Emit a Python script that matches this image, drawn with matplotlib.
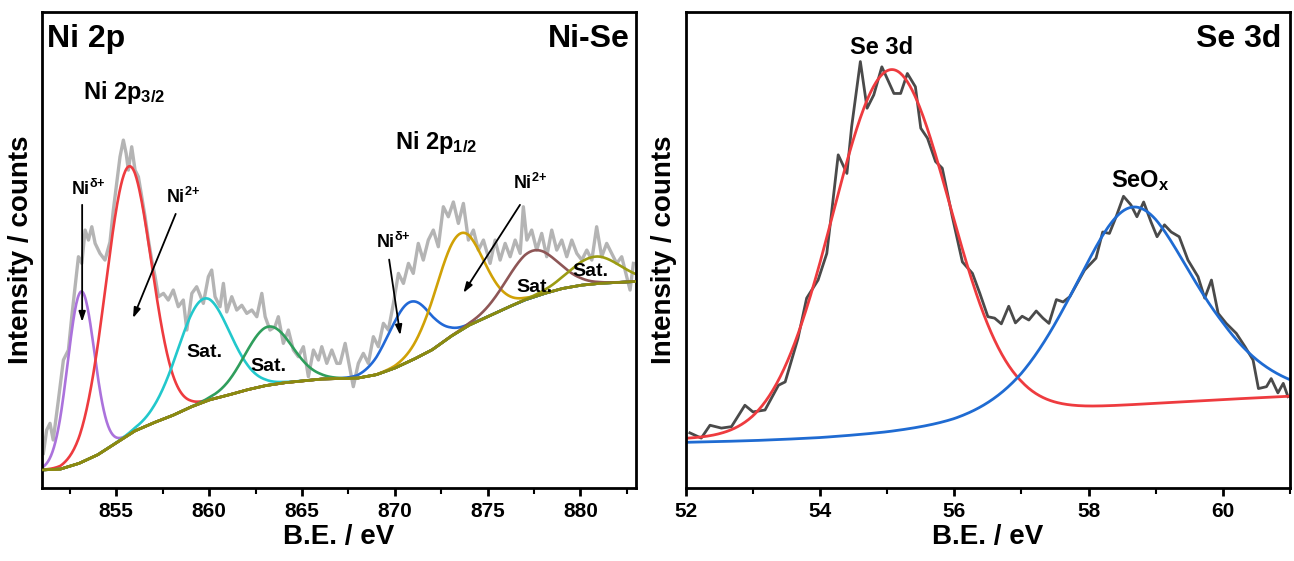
import numpy as np
import matplotlib
matplotlib.use("Agg")
import matplotlib.pyplot as plt

plt.rcParams["font.family"] = ["Liberation Sans", "DejaVu Sans"]
plt.rcParams["font.weight"] = "bold"
plt.rcParams["mathtext.fontset"] = "custom"
plt.rcParams["mathtext.rm"] = "Liberation Sans:bold"
plt.rcParams["mathtext.it"] = "Liberation Sans:bold"
plt.rcParams["mathtext.bf"] = "Liberation Sans:bold"

# ---------------- Ni 2p : raw spectrum ----------------
ni_be = [851.07, 851.25, 851.43, 851.6, 851.88, 852.15, 852.42, 852.6, 852.78, 852.96,
         853.14, 853.32, 853.5, 853.68, 853.86, 854.12, 854.39, 854.66, 854.84, 855.02,
         855.2, 855.38, 855.53, 855.65, 855.83, 856.01, 856.19, 856.37, 856.55, 856.73,
         856.91, 857.09, 857.27, 857.54, 857.8, 858.07, 858.34, 858.61, 858.8, 859.07,
         859.33, 859.69, 859.96, 860.14, 860.32, 860.59, 860.77, 860.95, 861.22, 861.49,
         861.76, 862.03, 862.3, 862.57, 862.84, 863.02, 863.28, 863.55, 863.73, 864.0,
         864.27, 864.54, 864.81, 865.08, 865.35, 865.62, 865.89, 866.07, 866.34, 866.61,
         866.88, 867.06, 867.33, 867.6, 867.77, 868.04, 868.31, 868.58, 868.85, 869.12,
         869.39, 869.66, 869.93, 870.2, 870.47, 870.74, 871.0, 871.27, 871.54, 871.81,
         872.08, 872.35, 872.62, 872.89, 873.16, 873.43, 873.7, 873.97, 874.24, 874.51,
         874.78, 875.14, 875.41, 875.68, 875.95, 876.22, 876.49, 876.76, 876.93, 877.12,
         877.38, 877.65, 877.92, 878.19, 878.46, 878.73, 879.0, 879.27, 879.54, 879.81,
         880.08, 880.35, 880.62, 880.88, 881.15, 881.42, 881.69, 881.96, 882.23, 882.5,
         882.68, 882.86]
ni_counts = [7.3, 12.2, 13.6, 10.1, 18.5, 26.9, 29.0, 36.0, 42.3, 48.6,
             47.2, 54.2, 52.1, 54.9, 51.4, 49.3, 47.9, 51.7, 58.4, 64.0,
             69.6, 73.1, 70.3, 66.8, 71.7, 66.8, 65.4, 61.2, 57.0, 52.1,
             47.9, 44.4, 40.2, 40.9, 39.5, 41.6, 38.1, 39.5, 33.2, 40.9,
             42.3, 38.8, 44.4, 45.8, 40.2, 38.1, 43.0, 37.0, 40.2, 37.4,
             38.4, 36.7, 37.4, 36.0, 40.9, 36.0, 33.2, 33.9, 36.0, 30.4,
             33.2, 29.0, 27.6, 29.7, 23.4, 29.0, 26.9, 29.7, 26.2, 29.0,
             26.2, 26.2, 30.4, 24.8, 21.3, 26.2, 28.3, 26.2, 31.8, 29.7,
             34.6, 33.2, 38.8, 45.1, 43.0, 47.2, 45.1, 51.4, 47.9, 52.1,
             54.2, 50.7, 59.1, 57.0, 60.1, 55.6, 59.8, 52.1, 54.2, 50.0,
             52.1, 47.2, 52.1, 47.9, 51.4, 48.6, 52.1, 49.3, 59.1, 52.1,
             54.2, 50.0, 53.5, 48.6, 54.2, 50.0, 52.1, 48.6, 52.1, 49.3,
             47.9, 50.0, 47.9, 54.9, 48.6, 51.4, 49.3, 47.2, 48.6, 44.4,
             41.6, 47.2]

# Ni 2p background (olive line) at 1 eV steps
ni_bg_be = list(range(851, 884))
ni_bg = [3.8, 4.0, 5.2, 7.0, 9.5, 12.0, 13.7, 15.2, 17.0, 18.5, 19.5, 20.6, 21.5, 22.1,
         22.5, 22.9, 23.0, 23.1, 23.8, 25.2, 27.0, 29.0, 31.8, 34.2, 36.0, 37.8, 39.5,
         40.8, 41.9, 42.6, 43.0, 43.2, 43.4]

# Ni 2p fitted components: centre, height above background, FWHM
ni_names = ["Ni d+ 3/2", "Ni2+ 3/2", "Sat 1", "Sat 2", "Ni d+ 1/2", "Ni2+ 1/2", "Sat 3", "Sat 4"]
ni_center = [853.1, 855.65, 859.7, 863.2, 870.8, 873.5, 877.4, 880.8]
ni_height = [35.9, 56.4, 21.7, 12.3, 12.4, 20.4, 9.8, 5.7]
ni_fwhm = [1.7, 2.9, 3.3, 3.0, 2.7, 3.0, 3.2, 3.2]
ni_colors = ["#ab72dc", "#ee3b3f", "#22c8cc", "#2f9e5c", "#2168d6", "#d0a106",
             "#8e5656", "#9b9b12"]

# ---------------- Se 3d : raw spectrum ----------------
se_be = [52.06, 52.23, 52.36, 52.53, 52.68, 52.88, 53.0, 53.18, 53.38, 53.48,
         53.67, 53.8, 53.97, 54.1, 54.17, 54.27, 54.4, 54.47, 54.6, 54.7,
         54.8, 54.92, 55.1, 55.2, 55.3, 55.42, 55.5, 55.6, 55.72, 55.82,
         55.97, 56.12, 56.27, 56.38, 56.5, 56.6, 56.7, 56.81, 56.91, 57.01,
         57.11, 57.22, 57.32, 57.41, 57.52, 57.62, 57.72, 57.94, 58.11, 58.21,
         58.31, 58.41, 58.52, 58.63, 58.72, 58.82, 58.93, 59.02, 59.13, 59.23,
         59.35, 59.48, 59.63, 59.73, 59.83, 59.93, 60.05, 60.2, 60.33, 60.45,
         60.53, 60.65, 60.72, 60.82, 60.9, 60.97]
se_counts = [11.6, 10.5, 13.2, 12.6, 12.9, 17.4, 16.0, 16.4, 21.6, 22.3,
             31.4, 39.9, 43.7, 49.3, 57.7, 70.0, 66.1, 75.9, 89.6, 79.8,
             82.6, 88.5, 82.9, 82.9, 87.1, 84.3, 75.6, 73.5, 68.6, 67.2,
             57.0, 47.5, 45.1, 40.9, 36.0, 35.7, 34.5, 38.2, 34.7, 36.1,
             35.3, 37.2, 35.7, 34.6, 39.6, 39.1, 40.2, 45.8, 48.3, 53.8,
             53.5, 57.0, 61.3, 59.5, 57.0, 60.1, 55.9, 52.8, 55.3, 53.8,
             52.8, 47.9, 44.4, 39.9, 43.7, 36.7, 34.6, 32.5, 29.7, 26.9,
             20.9, 21.3, 23.0, 20.0, 22.0, 19.2]

# Se 3d fitted components
se_bg_be = list(range(52, 62))
se_bg_red = [10.3, 10.5, 11.2, 12.8, 14.8, 16.3, 17.0, 17.8, 18.6, 19.3]
se_bg_blue = [8.9, 9.0, 9.2, 9.6, 10.2, 11.2, 13.0, 15.5, 17.0, 17.0]
se_center = [55.05, 58.64]
se_height = [75.0, 44.4]
se_fwhm = [2.05, 2.3]
se_lor = [0.0, 0.55]
se_colors = ["#ee3b3f", "#1f6bd2"]


def pvoigt(x, c, h, w, eta=0.0):
    s = w / 2.3548
    g = np.exp(-0.5 * ((x - c) / s) ** 2)
    lo = 1.0 / (1.0 + ((x - c) / (w / 2)) ** 2)
    return h * ((1 - eta) * g + eta * lo)


def ion(sup):
    # superscript charge label without binary-operator spacing around "+"
    return r"Ni$^{\mathrm{%s}\mathrm{+}}$" % sup


fig = plt.figure(figsize=(12.94, 5.61), dpi=100)
ax1 = fig.add_axes([0.0325, 0.130, 0.459, 0.8485])
ax2 = fig.add_axes([0.530, 0.130, 0.4669, 0.8485])

# ---- left panel ----
xf = np.linspace(851, 883, 800)
bgf = np.interp(xf, ni_bg_be, ni_bg)
ax1.plot(ni_be, ni_counts, color="#b4b4b4", lw=2.4, zorder=1)
for c, h, w, col in zip(ni_center, ni_height, ni_fwhm, ni_colors):
    ax1.plot(xf, bgf + pvoigt(xf, c, h, w), color=col, lw=1.9, zorder=2)
ax1.plot(xf, bgf, color="#8a8a10", lw=1.9, zorder=3)

ax1.set_xlim(851, 883)
ax1.set_ylim(0, 100)
ax1.set_xticks([855, 860, 865, 870, 875, 880])
ax1.set_xticks(np.arange(852.5, 883, 2.5), minor=True)

ax1.text(0.008, 0.975, "Ni 2p", transform=ax1.transAxes, fontsize=23, ha="left", va="top")
ax1.text(0.99, 0.975, "Ni-Se", transform=ax1.transAxes, fontsize=23, ha="right", va="top")
ax1.text(853.2, 83.0, r"Ni 2p$_{\mathrm{3/2}}$", fontsize=17, ha="left", va="center")
ax1.text(870.0, 72.7, r"Ni 2p$_{\mathrm{1/2}}$", fontsize=17, ha="left", va="center")

arr = dict(arrowstyle="-|>,head_length=0.6,head_width=0.2", color="black", lw=1.3,
           shrinkA=0, shrinkB=0)
ax1.annotate("", xy=(853.16, 34.9), xytext=(853.16, 59.5), arrowprops=arr)
ax1.text(853.5, 62.8, ion("δ"), fontsize=13, ha="center", va="center")
ax1.annotate("", xy=(855.9, 35.7), xytext=(858.2, 57.6), arrowprops=arr)
ax1.text(858.6, 61.2, ion("2"), fontsize=13, ha="center", va="center")
ax1.annotate("", xy=(870.3, 32.1), xytext=(869.7, 48.0), arrowprops=arr)
ax1.text(869.9, 51.8, ion("δ"), fontsize=13, ha="center", va="center")
ax1.annotate("", xy=(873.7, 41.0), xytext=(876.75, 59.5), arrowprops=arr)
ax1.text(877.3, 64.1, ion("2"), fontsize=13, ha="center", va="center")

for x, y in [(859.75, 28.4), (863.2, 25.6), (877.5, 42.2), (880.55, 45.4)]:
    ax1.text(x, y, "Sat.", fontsize=14, ha="center", va="center")

# ---- right panel ----
xs = np.linspace(52, 61, 500)
ax2.plot(se_be, se_counts, color="#4a4a4a", lw=2.0, zorder=1)
for c, h, w, eta, bgv, col in zip(se_center, se_height, se_fwhm, se_lor,
                                  [se_bg_red, se_bg_blue], se_colors):
    ax2.plot(xs, np.interp(xs, se_bg_be, bgv) + pvoigt(xs, c, h, w, eta), color=col,
             lw=2.0, zorder=2)
ax2.set_xlim(52, 61)
ax2.set_ylim(0, 100)
ax2.set_xticks([52, 54, 56, 58, 60])
ax2.set_xticks([53, 55, 57, 59, 61], minor=True)
ax2.text(0.985, 0.975, "Se 3d", transform=ax2.transAxes, fontsize=23, ha="right", va="top")
ax2.text(54.92, 92.6, "Se 3d", fontsize=17, ha="center", va="center")
ax2.text(58.77, 64.7, r"SeO$_{\mathrm{x}}$", fontsize=17, ha="center", va="center")

for ax in (ax1, ax2):
    ax.set_yticks([])
    for s in ax.spines.values():
        s.set_linewidth(2.0)
    ax.tick_params(axis="x", which="major", direction="out", length=6, width=2,
                   labelsize=15, pad=4)
    ax.tick_params(axis="x", which="minor", direction="out", length=4, width=1.5)
    for lab in ax.get_xticklabels():
        lab.set_fontweight("bold")
    ax.set_xlabel("B.E. / eV", fontsize=20, fontweight="bold", labelpad=2)
    ax.set_ylabel("Intensity / counts", fontsize=20, fontweight="bold", labelpad=6)

fig.savefig("out.png", dpi=100)
